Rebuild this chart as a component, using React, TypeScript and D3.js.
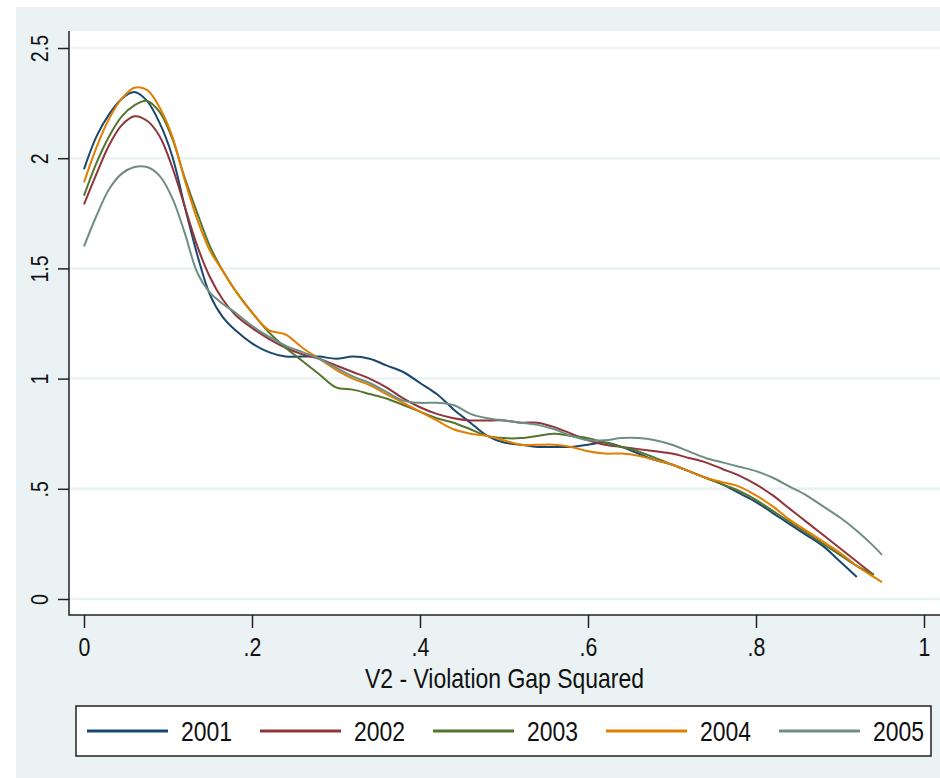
import React, { useEffect, useRef } from 'react';
import * as d3 from 'd3';

// x grid (violation gap squared) shared by all years
const GRID = [0, .015, .03, .045, .06, .075, .09, .105, .12, .135, .15, .165, .18, .20,
  .22, .24, .26, .28, .30, .32, .34, .36, .38, .40, .42, .44, .46, .48, .50, .52, .54, .56,
  .58, .60, .62, .64, .66, .68, .70, .72, .74, .76, .78, .80, .82, .84, .86, .88, .90, .92, .94, .95];

const YEARS = ['2001', '2002', '2003', '2004', '2005'];
const COLORS = ['#1a476f', '#90353b', '#55752f', '#e37e00', '#6e8e84'];

// density estimates (series stop where the curve stops)
const D2001 = [1.95, 2.10, 2.20, 2.27, 2.30, 2.26, 2.16, 2.01, 1.78, 1.56, 1.38, 1.28, 1.22, 1.16,
  1.12, 1.10, 1.10, 1.10, 1.09, 1.10, 1.09, 1.06, 1.03, 0.98, 0.93, 0.86, 0.80, 0.74, 0.71, 0.70, 0.69, 0.69,
  0.69, 0.70, 0.71, 0.69, 0.66, 0.63, 0.61, 0.58, 0.55, 0.52, 0.48, 0.44, 0.39, 0.34, 0.29, 0.24, 0.17, 0.10];
const D2002 = [1.79, 1.93, 2.06, 2.15, 2.19, 2.17, 2.10, 1.96, 1.78, 1.60, 1.46, 1.36, 1.29, 1.23,
  1.18, 1.14, 1.11, 1.09, 1.06, 1.03, 1.00, 0.96, 0.91, 0.87, 0.84, 0.82, 0.81, 0.81, 0.81, 0.80, 0.80, 0.78,
  0.75, 0.72, 0.70, 0.69, 0.68, 0.67, 0.66, 0.64, 0.62, 0.59, 0.56, 0.52, 0.47, 0.41, 0.35, 0.29, 0.23, 0.17, 0.11];
const D2003 = [1.83, 1.98, 2.10, 2.19, 2.24, 2.26, 2.21, 2.09, 1.91, 1.75, 1.60, 1.49, 1.40, 1.30,
  1.21, 1.14, 1.08, 1.02, 0.96, 0.95, 0.93, 0.91, 0.88, 0.85, 0.82, 0.80, 0.77, 0.74, 0.73, 0.73, 0.74, 0.75,
  0.74, 0.73, 0.71, 0.69, 0.67, 0.64, 0.61, 0.58, 0.55, 0.52, 0.49, 0.45, 0.40, 0.35, 0.30, 0.25, 0.20, 0.15, 0.11];
const D2004 = [1.89, 2.05, 2.18, 2.27, 2.32, 2.31, 2.23, 2.10, 1.90, 1.72, 1.58, 1.49, 1.40, 1.30,
  1.22, 1.20, 1.14, 1.09, 1.04, 1.00, 0.97, 0.93, 0.89, 0.85, 0.81, 0.77, 0.75, 0.74, 0.72, 0.70, 0.70, 0.70,
  0.69, 0.67, 0.66, 0.66, 0.65, 0.63, 0.61, 0.58, 0.55, 0.53, 0.51, 0.47, 0.42, 0.36, 0.31, 0.26, 0.21, 0.15, 0.10, 0.077];
const D2005 = [1.60, 1.74, 1.86, 1.93, 1.96, 1.96, 1.92, 1.82, 1.66, 1.48, 1.39, 1.34, 1.30, 1.24,
  1.19, 1.15, 1.12, 1.09, 1.05, 1.01, 0.98, 0.94, 0.90, 0.89, 0.89, 0.88, 0.84, 0.82, 0.81, 0.80, 0.79, 0.77,
  0.74, 0.72, 0.72, 0.73, 0.73, 0.72, 0.70, 0.67, 0.64, 0.62, 0.60, 0.58, 0.55, 0.51, 0.47, 0.42, 0.37, 0.31, 0.24, 0.20];
const SERIES = [D2001, D2002, D2003, D2004, D2005];

const X_TICKS = [0, .2, .4, .6, .8, 1];
const X_TICK_LABELS = ['0', '.2', '.4', '.6', '.8', '1'];
const Y_TICKS = [0, .5, 1, 1.5, 2, 2.5];
const Y_TICK_LABELS = ['0', '.5', '1', '1.5', '2', '2.5'];

const W = 940;
const H = 778;
const BG = '#eaf2f3';
const FONT = "'Liberation Sans', Arial, sans-serif";
const NARROW = 0.82; // squeeze to mimic a condensed face

const App = () => {
  const ref = useRef<SVGSVGElement>(null);

  useEffect(() => {
    const svg = d3.select(ref.current);
    svg.selectAll('*').remove();

    const plot = { left: 69, top: 31, right: 940, bottom: 615 };
    const x = d3.scaleLinear().domain([0, 1]).range([84, 924]);
    const y = d3.scaleLinear().domain([0, 2.5]).range([599, 48]);

    svg.append('rect').attr('x', 16).attr('y', 7).attr('width', W - 16).attr('height', H - 7).attr('fill', BG);
    svg.append('rect').attr('x', plot.left).attr('y', plot.top)
      .attr('width', plot.right - plot.left).attr('height', plot.bottom - plot.top).attr('fill', '#fff');

    // gridlines
    svg.append('g').selectAll('line').data(Y_TICKS).enter().append('line')
      .attr('x1', plot.left).attr('x2', plot.right)
      .attr('y1', d => y(d)).attr('y2', d => y(d))
      .attr('stroke', BG).attr('stroke-width', 2.5);

    // y axis
    const yAxis = svg.append('g').attr('transform', `translate(${plot.left},0)`)
      .call(d3.axisLeft(y).tickValues(Y_TICKS).tickSize(11).tickFormat((d, i) => Y_TICK_LABELS[i]));
    yAxis.select('.domain').remove();
    yAxis.selectAll('.tick line').attr('stroke', '#222').attr('stroke-width', 1.5);
    yAxis.selectAll('.tick text')
      .attr('transform', `rotate(-90) scale(${NARROW},1)`).attr('x', 0).attr('y', -21).attr('dy', 0)
      .attr('text-anchor', 'middle').attr('font-family', FONT).attr('font-size', 24).attr('fill', '#111');

    // x axis
    const xAxis = svg.append('g').attr('transform', `translate(0,${plot.bottom})`)
      .call(d3.axisBottom(x).tickValues(X_TICKS).tickSize(13).tickFormat((d, i) => X_TICK_LABELS[i]));
    xAxis.select('.domain').remove();
    xAxis.selectAll('.tick line').attr('stroke', '#222').attr('stroke-width', 1.5);
    xAxis.selectAll('.tick text').attr('y', 41).attr('dy', 0).attr('transform', `scale(${NARROW},1)`)
      .attr('font-family', FONT).attr('font-size', 26).attr('fill', '#111');

    svg.append('path')
      .attr('d', `M${plot.left},${plot.top}V${plot.bottom}H${plot.right}`)
      .attr('fill', 'none').attr('stroke', '#222').attr('stroke-width', 1.5);

    // density curves
    const line = d3.line<number>()
      .x((d, i) => x(GRID[i]))
      .y(d => y(d))
      .curve(d3.curveCatmullRom.alpha(0.5));
    SERIES.forEach((vals, k) => {
      svg.append('path').attr('d', line(vals))
        .attr('fill', 'none').attr('stroke', COLORS[k]).attr('stroke-width', 2);
    });

    svg.append('g').attr('transform', `translate(${(plot.left + plot.right) / 2},688) scale(${NARROW},1)`)
      .append('text').attr('text-anchor', 'middle').attr('font-family', FONT).attr('font-size', 28)
      .attr('fill', '#111').text('V2 - Violation Gap Squared');

    // legend
    const legend = svg.append('g');
    legend.append('rect').attr('x', 76).attr('y', 706).attr('width', 855).attr('height', 50)
      .attr('fill', '#fff').attr('stroke', '#222').attr('stroke-width', 1.5);
    const items = legend.selectAll('g.item').data(YEARS).enter().append('g')
      .attr('transform', (d, i) => `translate(${87 + i * 173},731)`);
    items.append('line').attr('x1', 0).attr('x2', 81).attr('y1', 0).attr('y2', 0)
      .attr('stroke', (d, i) => COLORS[i]).attr('stroke-width', 3);
    items.append('g').attr('transform', `translate(94,10) scale(${NARROW},1)`)
      .append('text').attr('font-family', FONT).attr('font-size', 28).attr('fill', '#111').text(d => d);
  }, []);

  return (
    <svg ref={ref} width={W} height={H} style={{ position: 'absolute', left: 0, top: 0 }} />
  );
};

export default App;
